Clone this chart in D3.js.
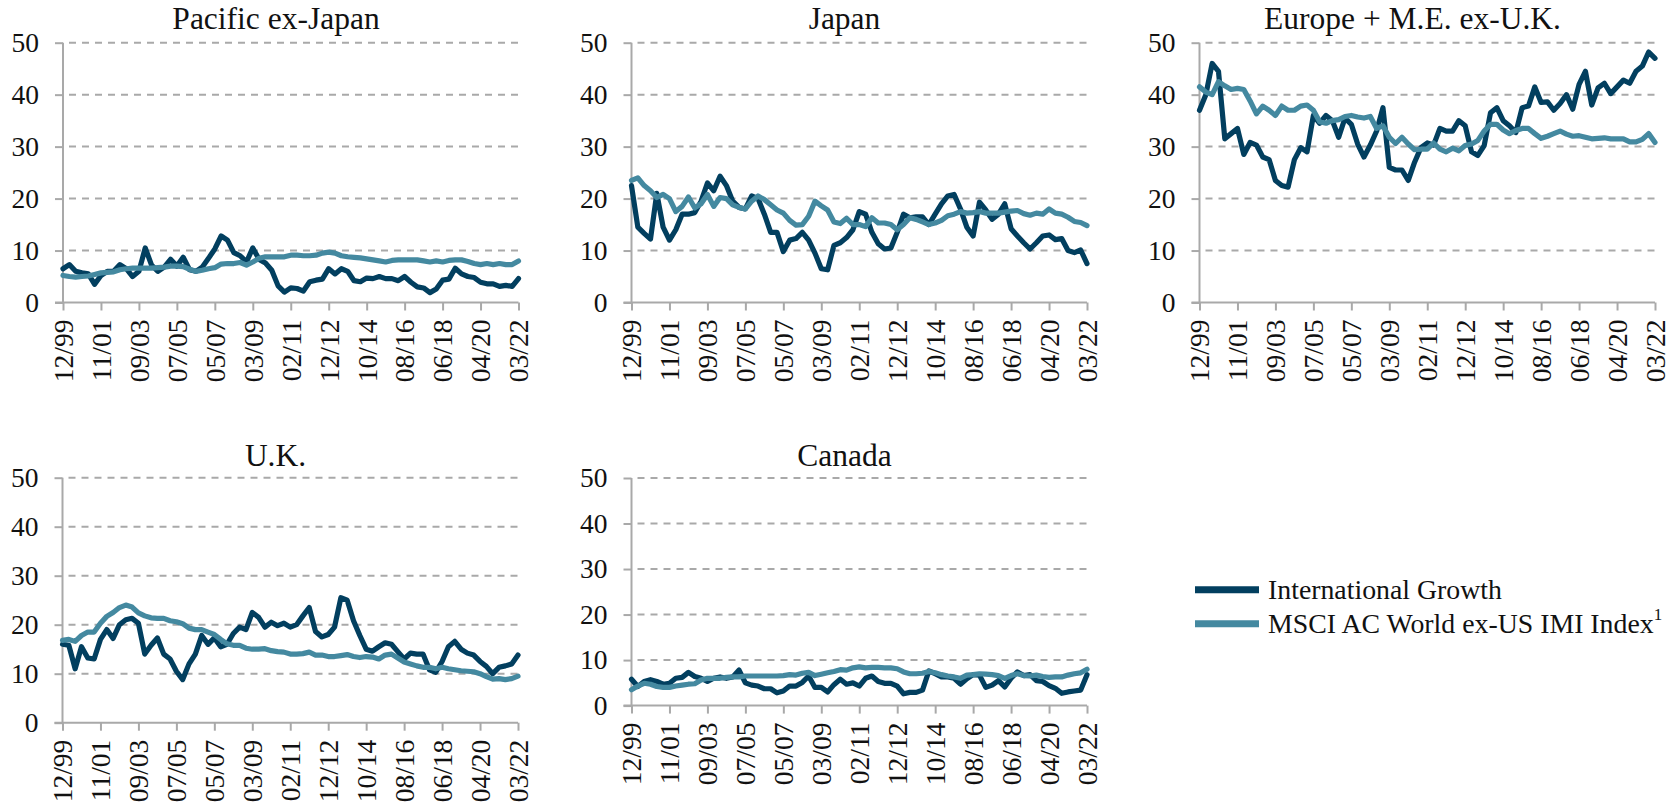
<!DOCTYPE html>
<html>
<head>
<meta charset="utf-8">
<script src="https://cdn.jsdelivr.net/npm/d3@7/dist/d3.min.js"></script>
<style>
  html, body { margin: 0; padding: 0; background: #fff; }
  svg { display: block; }
  text { font-family: "Liberation Serif", "Times New Roman", serif; fill: #111; }
</style>
</head>
<body>
<svg id="chart" width="1680" height="809"></svg>
<script>
// ---- Data ----
const tickLabels = ["12/99","11/01","09/03","07/05","05/07","03/09","02/11","12/12","10/14","08/16","06/18","04/20","03/22"];
const seriesNames = ["International Growth", "MSCI AC World ex-US IMI Index"];
const regions = ["Pacific ex-Japan", "Japan", "Europe + M.E. ex-U.K.", "U.K.", "Canada"];
const yTicks = [0, 10, 20, 30, 40, 50];

const pacificGrowth = [6.5,7.3,6.0,5.7,5.5,3.5,5.2,6.0,6.0,7.3,6.5,5.0,6.0,10.5,7.2,6.0,6.8,8.3,7.0,8.7,6.3,6.0,6.8,8.5,10.3,12.8,12.0,9.6,9.0,7.8,10.5,8.3,7.6,6.2,3.2,2.0,2.8,2.7,2.2,4.0,4.3,4.5,6.5,5.5,6.5,6.0,4.2,4.0,4.7,4.6,5.0,4.6,4.6,4.2,5.0,3.9,3.0,2.8,1.9,2.6,4.3,4.5,6.6,5.5,5.0,4.8,3.9,3.6,3.6,3.1,3.3,3.1,4.6];
const pacificIndex = [5.2,5.0,4.9,5.0,5.1,5.4,5.7,5.8,5.9,6.3,6.5,6.6,6.6,6.6,6.6,6.7,6.8,7.0,7.0,6.9,6.4,6.0,6.2,6.5,6.7,7.4,7.5,7.5,7.7,7.2,7.8,8.5,8.8,8.8,8.8,8.8,9.1,9.1,9.0,9.0,9.1,9.5,9.7,9.5,9.0,8.8,8.7,8.6,8.4,8.2,8.0,7.8,8.1,8.2,8.2,8.2,8.2,8.0,7.8,8.0,7.8,8.1,8.2,8.2,7.9,7.5,7.3,7.5,7.3,7.5,7.3,7.3,8.0];

const japanGrowth = [22.5,14.5,13.3,12.2,21.0,14.5,12.0,14.0,17.0,17.0,17.3,19.5,23.0,21.5,24.3,22.5,19.5,18.3,18.0,20.5,20.0,17.0,13.5,13.5,9.8,12.0,12.3,13.5,12.0,9.5,6.5,6.3,11.0,11.5,12.5,14.0,17.5,17.0,13.5,11.3,10.3,10.5,13.5,17.0,16.3,16.5,16.5,15.0,17.0,19.0,20.5,20.8,18.0,14.5,12.8,19.3,17.8,16.0,17.0,19.0,14.2,12.8,11.5,10.3,11.5,12.8,13.0,12.1,12.3,10.0,9.6,10.1,7.5];
const japanIndex = [23.5,24.0,22.5,21.5,20.2,20.8,20.0,17.5,18.5,20.3,18.2,19.0,20.8,18.5,20.2,20.0,18.8,18.3,18.0,19.5,20.5,19.8,18.8,17.8,17.2,15.8,14.9,15.0,16.6,19.5,18.6,17.8,15.5,15.2,16.2,15.0,15.0,14.6,16.3,15.3,15.3,15.0,14.0,15.0,16.3,16.0,15.5,15.0,15.3,15.8,16.7,17.0,17.5,17.2,17.3,17.5,17.2,17.2,17.2,17.4,17.6,17.7,17.1,16.8,17.2,17.0,18.0,17.2,17.0,16.4,15.6,15.4,14.8];

const europeGrowth = [37.0,40.0,46.0,44.5,31.5,32.5,33.5,28.5,30.8,30.3,28.0,27.5,23.5,22.5,22.2,27.5,29.8,29.0,36.0,34.5,36.0,35.0,31.8,35.5,34.3,30.5,28.0,30.3,33.0,37.5,26.0,25.5,25.5,23.5,27.0,29.8,30.7,30.3,33.5,33.0,33.0,35.0,34.0,29.0,28.3,30.2,36.5,37.5,35.0,34.0,32.7,37.5,37.8,41.5,38.5,38.6,37.0,38.3,40.0,37.2,42.0,44.5,38.0,41.3,42.2,40.2,41.5,42.8,42.2,44.5,45.5,48.2,47.0];
const europeIndex = [41.5,40.5,40.0,42.5,41.7,41.0,41.2,41.0,38.8,36.3,37.8,37.0,36.0,37.8,37.0,37.0,37.8,38.0,37.0,34.8,34.5,35.0,35.2,35.8,36.0,35.7,35.5,35.8,33.5,34.0,31.8,30.6,31.8,30.5,29.4,29.5,29.5,30.7,29.5,29.0,29.7,29.2,30.2,30.5,31.2,33.0,34.3,34.3,33.2,32.5,33.1,33.5,33.5,32.5,31.6,32.0,32.5,33.0,32.4,32.0,32.1,31.8,31.5,31.6,31.7,31.5,31.5,31.5,30.9,30.9,31.4,32.5,30.8];

const ukGrowth = [16.0,15.8,11.0,15.5,13.2,13.0,17.0,19.0,17.2,20.0,21.0,21.3,20.3,14.0,15.8,17.3,14.0,13.0,10.5,8.8,12.0,14.0,17.8,16.0,17.3,15.5,16.0,18.2,19.5,19.0,22.5,21.5,19.5,20.5,19.8,20.3,19.5,20.0,21.8,23.5,18.6,17.5,18.0,19.5,25.5,25.0,20.8,17.8,15.0,14.6,15.5,16.3,16.0,14.5,13.0,14.2,14.0,14.0,10.8,10.3,12.5,15.5,16.6,15.0,14.2,13.8,12.5,11.5,10.0,11.3,11.6,12.0,13.8];
const ukIndex = [16.8,17.0,16.6,17.8,18.5,18.5,20.3,21.7,22.5,23.5,24.0,23.6,22.4,21.8,21.4,21.3,21.3,20.8,20.6,20.2,19.3,19.0,19.0,18.5,18.0,17.0,16.1,15.8,15.8,15.2,15.0,15.0,15.1,14.7,14.5,14.4,14.0,14.0,14.1,14.4,13.8,13.8,13.5,13.5,13.7,13.9,13.5,13.3,13.5,13.4,13.0,13.8,14.0,13.2,12.4,12.0,11.6,11.3,11.3,11.0,11.3,11.0,10.8,10.6,10.5,10.4,10.0,9.4,8.9,9.0,8.8,9.0,9.5];

const canadaGrowth = [5.8,4.2,5.3,5.7,5.3,4.7,4.9,6.0,6.2,7.3,6.4,6.0,5.3,6.0,6.3,6.0,6.3,7.8,5.0,4.5,4.3,3.7,3.7,2.8,3.2,4.3,4.3,5.1,6.5,4.0,4.0,3.0,4.6,5.8,4.7,5.0,4.3,6.0,6.5,5.3,4.9,4.9,4.3,2.6,2.9,2.9,3.4,7.6,7.0,6.3,6.3,6.0,4.7,5.9,6.8,6.7,4.0,4.5,5.5,4.1,6.0,7.4,6.6,6.8,5.5,5.3,4.4,3.8,2.7,3.0,3.2,3.4,6.8];
const canadaIndex = [3.5,4.3,4.9,4.7,4.2,4.0,4.0,4.3,4.5,4.7,4.8,5.6,6.0,6.0,6.0,6.2,6.3,6.3,6.5,6.5,6.5,6.5,6.5,6.5,6.6,6.8,6.7,7.1,7.3,6.6,6.9,7.2,7.5,7.9,7.8,8.3,8.5,8.3,8.4,8.4,8.3,8.3,8.1,7.4,7.0,7.0,7.1,7.5,7.2,6.8,6.5,6.3,6.0,6.7,6.8,7.0,6.9,6.8,6.6,6.0,6.6,7.0,6.6,6.5,6.7,6.4,6.2,6.3,6.3,6.7,7.0,7.2,8.0];

const growthSeries = [pacificGrowth, japanGrowth, europeGrowth, ukGrowth, canadaGrowth];
const indexSeries = [pacificIndex, japanIndex, europeIndex, ukIndex, canadaIndex];

// ---- Layout ----
const colors = { growth: "#023f5f", index: "#4489a0" };
const gridColor = "#a9a9a9";
const panels = [
  { x0: 63,    y0: 42.7,  y1: 302.5, ty: 29  },
  { x0: 631.5, y0: 42.7,  y1: 302.5, ty: 29  },
  { x0: 1199.5,y0: 42.7,  y1: 302.5, ty: 29  },
  { x0: 62.5,  y0: 477.7, y1: 722.7, ty: 466 },
  { x0: 631.5, y0: 478,   y1: 705.6, ty: 466 }
];
const plotW = 455.5;
const tickFont = 27.5;

const svg = d3.select("#chart");

panels.forEach((p, k) => {
  const g = svg.append("g");
  const n = growthSeries[k].length;
  const step = (n - 1) / (tickLabels.length - 1);
  const x = d3.scaleLinear().domain([0, n - 1]).range([p.x0, p.x0 + plotW]);
  const y = d3.scaleLinear().domain([0, 50]).range([p.y1, p.y0]);

  // gridlines
  g.selectAll(".grid").data(yTicks.filter(t => t > 0)).enter().append("line")
    .attr("x1", p.x0).attr("x2", p.x0 + plotW)
    .attr("y1", d => y(d)).attr("y2", d => y(d))
    .attr("stroke", gridColor).attr("stroke-width", 2)
    .attr("stroke-dasharray", "7,6").attr("stroke-dashoffset", -6);

  // y axis
  const yAxis = d3.axisLeft(y).tickValues(yTicks).tickSize(8).tickPadding(16);
  const ya = g.append("g").attr("transform", `translate(${p.x0},0)`).call(yAxis);
  ya.select(".domain").attr("stroke", gridColor).attr("stroke-width", 2).attr("d", `M0,${p.y1}V${p.y0}`);
  ya.selectAll(".tick line").attr("stroke", gridColor).attr("stroke-width", 2);
  ya.selectAll(".tick text").attr("font-size", tickFont).attr("font-family", "Liberation Serif").attr("fill", "#111");

  // x axis
  const tickIdx = tickLabels.map((_, i) => i * step);
  const xAxis = d3.axisBottom(x).tickValues(tickIdx).tickSize(8).tickFormat((d, i) => tickLabels[i]);
  const xa = g.append("g").attr("transform", `translate(0,${p.y1})`).call(xAxis);
  xa.select(".domain").attr("stroke", gridColor).attr("stroke-width", 2).attr("d", `M${p.x0 - 8},0H${p.x0 + plotW}`);
  xa.selectAll(".tick line").attr("stroke", gridColor).attr("stroke-width", 2);
  xa.selectAll(".tick text")
    .attr("font-size", tickFont).attr("font-family", "Liberation Serif").attr("fill", "#111")
    .attr("text-anchor", "end")
    .attr("transform", "translate(0,17) rotate(-90)")
    .attr("x", 0).attr("y", 0).attr("dy", "0.34em");

  // lines
  const line = d3.line().x((d, i) => x(i)).y(d => y(d));
  g.append("path").datum(growthSeries[k]).attr("d", line)
    .attr("fill", "none").attr("stroke", colors.growth).attr("stroke-width", 5.2)
    .attr("stroke-linejoin", "round").attr("stroke-linecap", "round");
  g.append("path").datum(indexSeries[k]).attr("d", line)
    .attr("fill", "none").attr("stroke", colors.index).attr("stroke-width", 5.2)
    .attr("stroke-linejoin", "round").attr("stroke-linecap", "round");

  // title
  g.append("text").attr("x", p.x0 + 213).attr("y", p.ty)
    .attr("text-anchor", "middle").attr("font-size", 31.5).text(regions[k]);
});

// legend
const leg = svg.append("g").attr("transform", "translate(1195,589.7)");
[colors.growth, colors.index].forEach((c, i) => {
  leg.append("line").attr("x1", 0).attr("x2", 64).attr("y1", i * 34).attr("y2", i * 34)
    .attr("stroke", c).attr("stroke-width", 7);
  const t = leg.append("text").attr("x", 73).attr("y", i * 34).attr("dy", "0.33em").attr("font-size", 27.8);
  t.append("tspan").text(seriesNames[i]);
  if (i === 1) t.append("tspan").attr("font-size", 17).attr("dy", "-0.75em").text("1");
});
</script>
</body>
</html>
